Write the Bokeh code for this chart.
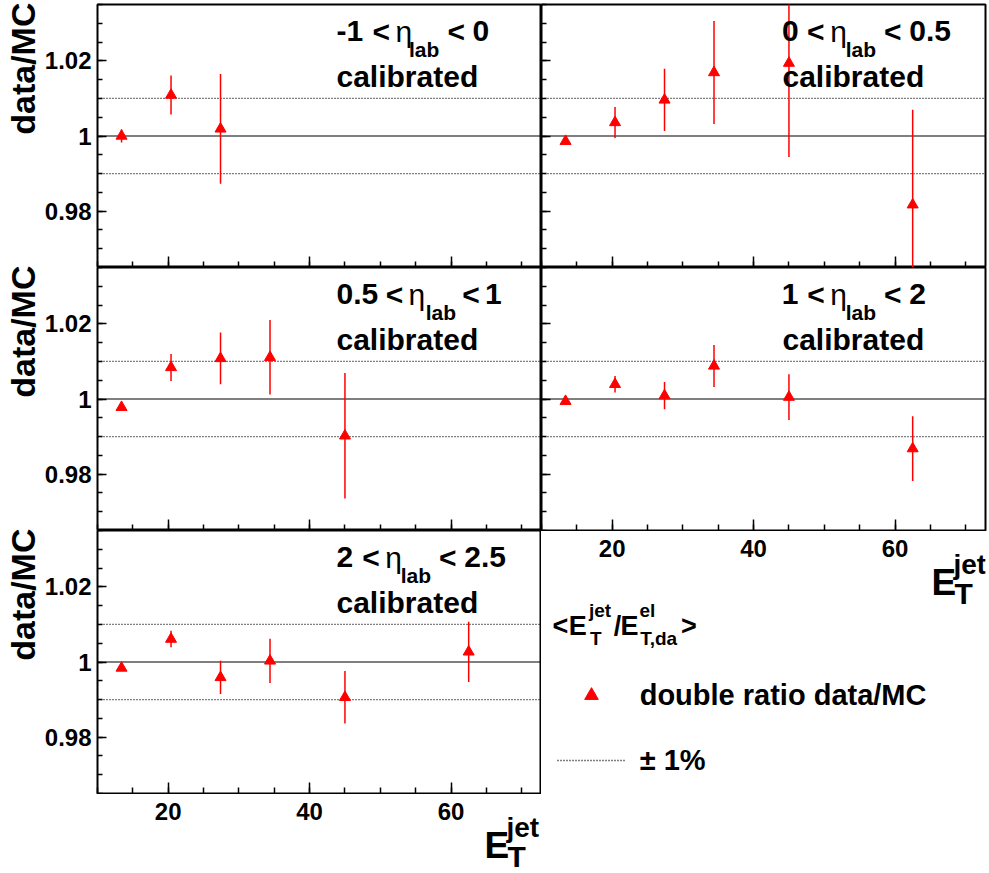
import math
from bokeh.plotting import figure
from bokeh.layouts import row, column
from bokeh.models import (Range1d, SingleIntervalTicker, NumeralTickFormatter, Label,
                          Legend, LegendItem, Span, ColumnDataSource)
from bokeh.core.properties import value
from bokeh.embed import file_html
from bokeh.resources import INLINE

# ---------------- data ----------------
et_jet = [13.4, 20.4, 27.4, 34.4, 45.0, 62.5]

eta_lo = ["-1", "0", "0.5", "1", "2"]
eta_hi = ["0", "0.5", "1", "2", "2.5"]

ratio_m1_0 = [1.0000, 1.0109, 1.0019]
error_m1_0 = [0.0017, 0.0052, 0.0146]

ratio_0_05 = [0.9986, 1.0036, 1.0096, 1.0169, 1.0194, 0.9817]
error_0_05 = [0.0008, 0.0041, 0.0083, 0.0137, 0.0250, 0.0253]

ratio_05_1 = [0.9978, 1.0084, 1.0108, 1.0111, 0.9902]
error_05_1 = [0.0008, 0.0036, 0.0069, 0.0099, 0.0167]

ratio_1_2 = [0.9994, 1.0039, 1.0009, 1.0088, 1.0005, 0.9868]
error_1_2 = [0.0010, 0.0022, 0.0036, 0.0056, 0.0061, 0.0086]

ratio_2_25 = [0.9984, 1.0061, 0.9959, 1.0003, 0.9906, 1.0027]
error_2_25 = [0.0008, 0.0022, 0.0044, 0.0059, 0.0070, 0.0080]

reference_ratio = 1.0
band = 0.01
x_limits = (10.0, 72.8)
y_limits = (0.965, 1.035)
x_tick_step = 20
y_tick_step = 0.02
x_major_ticks = [20, 40, 60]

legend_marker_label = "double ratio data/MC"
legend_band_label = "\u00b1 1%"
y_title = "data/MC"

# panel order: top-left, top-right, mid-left, mid-right, bottom-left
ratios = [ratio_m1_0, ratio_0_05, ratio_05_1, ratio_1_2, ratio_2_25]
errors = [error_m1_0, error_0_05, error_05_1, error_1_2, error_2_25]

# ---------------- style / layout ----------------
FONT = "Liberation Sans"
FW, FH = 444, 263
STRIP_W = 41
LEFT_B = 56
TOP_B = 4
TOTAL_H = 872
CAP_L_H = 78
CAP_R_H = 341
RED = "#ff0000"
XTICK_PX = 24
YTICK_PX = 24
MID = 0.3465  # distance (em) from alphabetic baseline to the em-box centre

# x offsets (px from frame left) of caption pieces: lo, "<", eta, lab, "<", hi
PANEL_X = [
    [239, 275, 298, 311.5, 350, 375],
    [240.5, 265.5, 288.7, 304.2, 342.5, 367.8],
    [239, 288.2, 311, 328.2, 364.8, 387.6],
    [240.2, 265.8, 288.7, 304.2, 342.5, 367.8],
    [239, 264.8, 287.7, 303.2, 341.5, 366.8],
]
CAL_X = [239, 241, 239, 241, 239]


def add_label(p, text, x, base_y, size, style="bold"):
    # base_y: alphabetic baseline, screen px above the frame bottom
    p.add_layout(Label(x=x, y=base_y + MID * size, x_units="screen", y_units="screen", text=text,
                       text_font=FONT, text_font_size=f"{size}px", text_font_style=style,
                       text_align="left", text_baseline="middle", text_color="black"))


def glyph_text(p, x, base_y, txt, size, style="bold", align="left", px=True):
    kw = {"x_range_name": "px"} if px else {}
    p.text(x=[x], y=[base_y + MID * size], text=[txt], text_font=value(FONT),
           text_font_size=value(f"{size}px"), text_font_style=style, text_align=align,
           text_baseline="middle", text_color="black", **kw)


def blank(fw, fh, left=0, right=0, x_range=None, y_range=None):
    p = figure(frame_width=fw, frame_height=fh, x_range=x_range, y_range=y_range,
               x_axis_location=None, y_axis_location=None,
               output_backend="svg", toolbar_location=None,
               min_border_left=left, min_border_right=right,
               min_border_top=0, min_border_bottom=0)
    p.outline_line_color = None
    p.border_fill_color = "white"
    p.background_fill_color = "white"
    p.xgrid.visible = False
    p.ygrid.visible = False
    return p


def make_panel(k, is_left, is_top, is_bottom):
    ys = ratios[k]
    es = errors[k]
    xs = et_jet[:len(ys)]
    p = figure(frame_width=FW, frame_height=FH,
               x_range=Range1d(*x_limits), y_range=Range1d(*y_limits),
               output_backend="svg", toolbar_location=None,
               min_border_left=LEFT_B if is_left else 0,
               min_border_right=0 if is_left else 2,
               min_border_top=TOP_B if is_top else 0,
               min_border_bottom=1 if is_bottom else 0)
    p.grid.visible = False
    p.outline_line_color = "black"
    p.outline_line_width = 2
    p.background_fill_color = "white"
    p.border_fill_color = "white"

    xa, ya = p.xaxis[0], p.yaxis[0]
    xa.ticker = SingleIntervalTicker(interval=x_tick_step, num_minor_ticks=4)
    ya.ticker = SingleIntervalTicker(interval=y_tick_step, num_minor_ticks=4)
    ya.formatter = NumeralTickFormatter(format="0.[00]")
    for ax in (xa, ya):
        ax.axis_line_color = None
        ax.major_tick_out = 0
        ax.minor_tick_out = 0
        ax.major_tick_line_color = "black"
        ax.minor_tick_line_color = "black"
        ax.major_tick_line_width = 1.5
        ax.minor_tick_line_width = 1.5
        ax.major_label_text_font = FONT
        ax.major_label_text_font_style = "bold"
        ax.major_label_text_color = "black"
    ya.major_label_text_font_size = f"{YTICK_PX}px"
    xa.major_tick_in = 11
    xa.minor_tick_in = 6
    ya.major_tick_in = 9
    ya.minor_tick_in = 5
    ya.major_label_standoff = 6
    # x tick labels are drawn in the caption strips below; hide them here
    xa.major_label_text_alpha = 0
    xa.major_label_text_font_size = "0px"
    xa.major_label_standoff = 0
    if not is_left:
        ya.major_label_text_alpha = 0
        ya.major_label_text_font_size = "0px"
        ya.major_label_standoff = 0

    p.add_layout(Span(location=reference_ratio, dimension="width", line_color="black",
                      line_width=1.2, level="underlay"))
    for d in (-band, band):
        p.add_layout(Span(location=reference_ratio + d, dimension="width", line_color="black",
                          line_width=1.3, line_dash="1 2", level="underlay"))

    src = ColumnDataSource(data=dict(
        x=xs, y=ys,
        lo=[y - e for y, e in zip(ys, es)],
        hi=[y + e for y, e in zip(ys, es)]))
    p.segment(x0="x", y0="lo", x1="x", y1="hi", source=src, line_color=RED, line_width=1.5)
    p.scatter(x="x", y="y", source=src, marker="triangle", size=11,
              fill_color=RED, line_color=RED)

    o = PANEL_X[k]
    y1 = FH - 37
    ysub = FH - 52
    y2 = FH - 82.6
    add_label(p, eta_lo[k], o[0], y1, 30)
    add_label(p, "<", o[1], y1, 30)
    add_label(p, "\u03b7", o[2], y1, 30, style="normal")
    add_label(p, "lab", o[3], ysub, 21)
    add_label(p, "<", o[4], y1, 30)
    add_label(p, eta_hi[k], o[5], y1, 30)
    add_label(p, "calibrated", CAL_X[k], y2, 30)
    return p, src


def add_axis_caption(p, dx):
    # tick labels through the data x scale, axis title E_T^jet right-aligned
    p.text(x=x_major_ticks, y=[-26.5 + MID * XTICK_PX] * len(x_major_ticks),
           text=[str(t) for t in x_major_ticks],
           text_font=value(FONT), text_font_size=value(f"{XTICK_PX}px"), text_font_style="bold",
           text_align="center", text_baseline="middle", text_color="black")
    glyph_text(p, 387 + dx, -64.5, "E", 37)
    glyph_text(p, 409 + dx, -43.5, "jet", 28)
    glyph_text(p, 410 + dx, -73.5, "T", 30)


tl, _ = make_panel(0, True, True, False)
tr, _ = make_panel(1, False, True, False)
ml, _ = make_panel(2, True, False, False)
mr, mr_src = make_panel(3, False, False, True)
bl, _ = make_panel(4, True, False, True)

# y titles strip (rotated, right-aligned to each frame top)
strip = blank(STRIP_W, TOTAL_H, x_range=Range1d(0, STRIP_W), y_range=Range1d(-TOTAL_H, 0))
y_title_tops = [-(t - 2) for t in (TOP_B, TOP_B + FH, TOP_B + 2 * FH)]
strip.text(x=[34.0 - MID * 34] * 3, y=y_title_tops, text=[y_title] * 3,
           text_font=value(FONT), text_font_size=value("34px"), text_font_style="bold",
           text_align="right", text_baseline="middle", text_color="black", angle=math.pi / 2)

# caption under bottom-left panel
cap_l = blank(FW, CAP_L_H, left=LEFT_B, x_range=Range1d(*x_limits),
              y_range=Range1d(-(CAP_L_H + 1), -1))
cap_l.extra_x_ranges = {"px": Range1d(0, FW)}
add_axis_caption(cap_l, 0)

# caption + legend under mid-right panel
cap_r = blank(FW, CAP_R_H, right=2, x_range=Range1d(*x_limits),
              y_range=Range1d(-(CAP_R_H + 1), -1))
cap_r.extra_x_ranges = {"px": Range1d(0, FW)}
cap_r.extra_y_ranges = {"off": Range1d(100, 200)}
add_axis_caption(cap_r, 3)

for txt, x, y, s in [("<", 11, -105, 27), ("E", 27.2, -105, 27), ("jet", 47.5, -86.7, 19),
                     ("T", 48.6, -115, 19), ("/", 72.3, -105, 27), ("E", 79, -105, 27),
                     ("el", 98, -86.7, 19), ("T,da", 98.7, -115, 19), (">", 139.5, -105, 27)]:
    glyph_text(cap_r, x, y, txt, s)

# legend renderers: same data, on a range where they stay out of sight
marker_proxy = cap_r.scatter(x="x", y="y", source=mr_src, marker="triangle", size=11,
                             fill_color=RED, line_color=RED, y_range_name="off")
band_proxy = cap_r.line(x=list(x_limits), y=[reference_ratio + band] * 2, y_range_name="off",
                        line_color="black", line_width=1.3, line_dash="1 2")
legend = Legend(items=[LegendItem(label=legend_marker_label, renderers=[marker_proxy]),
                       LegendItem(label=legend_band_label, renderers=[band_proxy])],
                location=(15.7, 95), orientation="vertical",
                glyph_width=68, glyph_height=34, label_height=34, label_standoff=15,
                spacing=31, padding=0, margin=0,
                border_line_alpha=0, background_fill_alpha=0,
                label_text_font=FONT, label_text_font_style="bold",
                label_text_font_size="29px", label_text_color="black")
cap_r.add_layout(legend)

layout = row(strip, column(tl, ml, bl, cap_l), column(tr, mr, cap_r))

with open("out.html", "w") as f:
    f.write(file_html(layout, INLINE, title="double ratio data/MC"))
